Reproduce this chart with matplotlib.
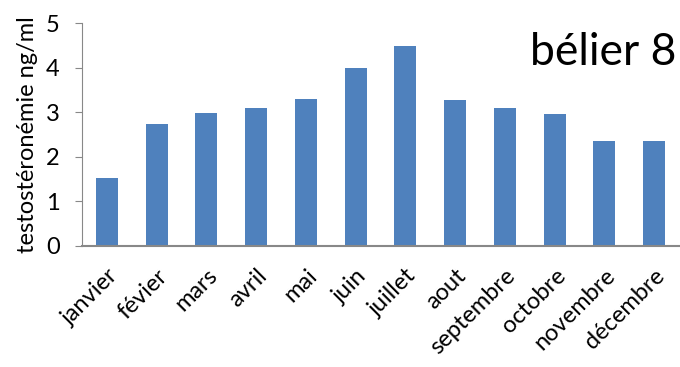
import matplotlib.pyplot as plt
import numpy as np

# monthly testosterone level for ram no. 8
months = ["janvier", "févier", "mars", "avril", "mai", "juin", "juillet",
          "aout", "septembre", "octobre", "novembre", "décembre"]
testo = [1.52, 2.74, 2.99, 3.09, 3.29, 3.99, 4.49, 3.27, 3.09, 2.95, 2.35, 2.35]

plt.rcParams['font.family'] = ['Lato', 'DejaVu Sans']

fig = plt.figure(figsize=(6.8, 3.67), dpi=100)
ax = fig.add_axes([0.1206, 0.3305, 0.878, 0.606])

x = np.arange(len(months))
ax.bar(x, testo, width=0.44, color="#4F81BD")

ax.set_xlim(-0.5, len(months) - 0.5)
ax.set_ylim(0, 5)
ax.set_yticks(range(6))
ax.set_xticks(x)
ax.set_xticklabels(months, rotation=45, ha="right", rotation_mode="anchor")
ax.tick_params(axis="x", length=0, labelsize=17, pad=14)
ax.tick_params(axis="y", length=5, color="#888888", labelsize=17, pad=11)

for side in ["top", "right"]:
    ax.spines[side].set_visible(False)
ax.spines["left"].set_color("#888888")
ax.spines["bottom"].set_color("#888888")
ax.spines["bottom"].set_linewidth(1.5)

ax.set_ylabel("testostéronémie ng/ml", fontsize=17, labelpad=6)
ax.text(0.995, 0.87, "bélier 8", transform=ax.transAxes, fontsize=32,
        ha="right", va="center")

fig.savefig("out.png", dpi=100)
